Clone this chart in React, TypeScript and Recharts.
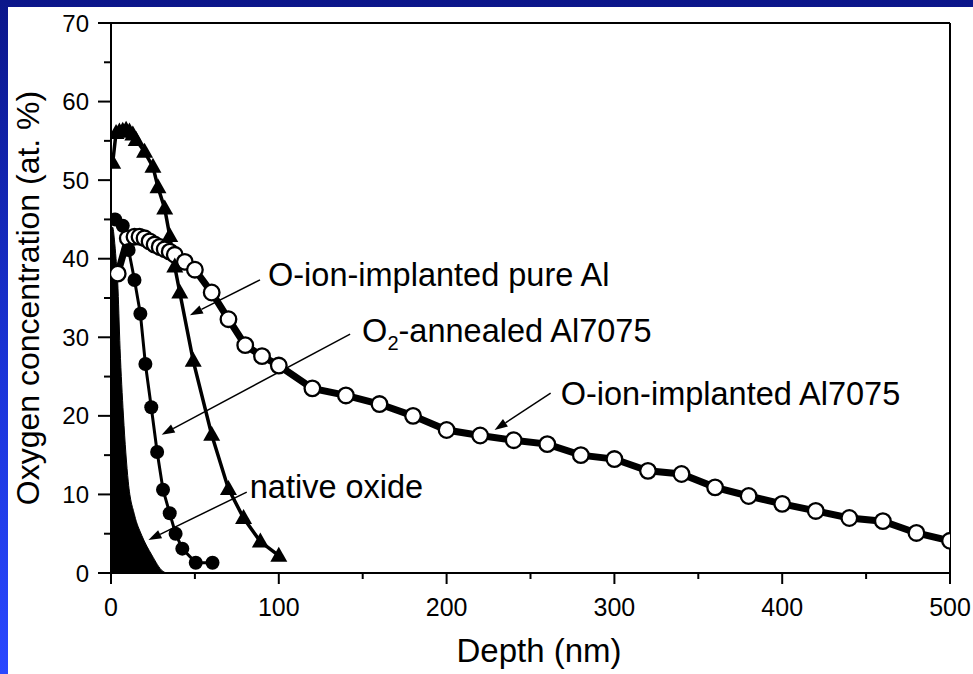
import React from "react";
import {
  ComposedChart,
  Line,
  Area,
  XAxis,
  YAxis,
  ReferenceLine,
} from "recharts";

// O-ion-implanted Al7075 (open circles)
const implantedDepth = [
  4, 10, 14, 17, 20, 23, 26, 29, 32, 35, 38, 44, 50, 60, 70, 80, 90, 100, 120,
  140, 160, 180, 200, 220, 240, 260, 280, 300, 320, 340, 360, 380, 400, 420,
  440, 460, 480, 500,
];
const implantedO = [
  38.1, 42.6, 42.8, 42.8, 42.6, 42.2, 41.8, 41.5, 41.2, 40.9, 40.5, 39.6, 38.6,
  35.7, 32.3, 29.0, 27.6, 26.4, 23.5, 22.6, 21.5, 20.0, 18.2, 17.5, 16.9, 16.4,
  15.0, 14.5, 13.0, 12.6, 10.9, 9.8, 8.8, 7.9, 7.0, 6.6, 5.1, 4.1,
];

// O-ion-implanted pure Al (triangles)
const pureAlDepth = [
  1, 3, 5, 7, 9, 11, 13, 15, 20, 25, 28, 32, 35, 38, 41, 49, 60, 70, 79, 89, 100,
];
const pureAlO = [
  52.2, 56.0, 56.2, 56.3, 56.4, 56.2, 55.8, 55.1, 53.6, 51.7, 49.1, 46.4, 42.9,
  39.0, 35.7, 27.0, 17.6, 10.7, 7.0, 4.0, 2.2,
];

// O2-annealed Al7075 (filled circles)
const annealedDepth = [
  2.5, 7, 10.5, 14, 17.5, 20.5, 24, 27.5, 31, 35, 38.5, 42.5, 50.5, 60.5,
];
const annealedO = [
  45.0, 44.2, 41.1, 37.3, 33.0, 26.6, 21.1, 15.4, 10.6, 7.6, 5.0, 3.1, 1.3, 1.3,
];

// native oxide (filled area)
const nativeDepth = [0, 1, 2, 3, 4, 5.4, 7.4, 10.3, 14, 18.3, 24.3, 31, 33];
const nativeO = [44, 44, 42.5, 40, 37, 28.6, 20.1, 11.6, 7.4, 4.8, 2.3, 0.2, 0];

const xMajor = [0, 100, 200, 300, 400, 500];
const xTicks = [0, 50, 100, 150, 200, 250, 300, 350, 400, 450, 500];
const yTicks = [0, 5, 10, 15, 20, 25, 30, 35, 40, 45, 50, 55, 60, 65, 70];

const annotations = [
  { text: "O-ion-implanted pure Al", tail: [88.8, 37.3], head: [47, 32.8], dx: 8, dy: 6 },
  { text: "O2-annealed Al7075", tail: [142.5, 30.4], head: [30.2, 17.6], dx: 12, dy: 8 },
  { text: "O-ion-implanted Al7075", tail: [262, 22.9], head: [228.6, 18.2], dx: 10, dy: 12 },
  { text: "native oxide", tail: [80.9, 10.3], head: [22.3, 4.2], dx: 3, dy: 6 },
];

const zip = (xs: number[], ys: number[]) => xs.map((d, i) => ({ d, v: ys[i] }));

const implanted = zip(implantedDepth, implantedO);
const pureAl = zip(pureAlDepth, pureAlO);
const annealed = zip(annealedDepth, annealedO);
const native = zip(nativeDepth, nativeO);

const FONT = "Arial, 'Liberation Sans', Helvetica, sans-serif";

const BottomTick = ({ x, y, payload }: any) => {
  const major = xMajor.includes(payload.value);
  return (
    <g>
      <line x1={x} y1={y} x2={x} y2={y + (major ? 11 : 6)} stroke="#000" strokeWidth={2} />
      {major && (
        <text x={x} y={y + 43} textAnchor="middle" fontSize={25} fontFamily={FONT} fill="#000">
          {payload.value}
        </text>
      )}
    </g>
  );
};

const TopTick = ({ x, y, payload }: any) => {
  const major = xMajor.includes(payload.value);
  return <line x1={x} y1={y} x2={x} y2={y + (major ? 12 : 7)} stroke="#000" strokeWidth={2} />;
};

const LeftTick = ({ x, y, payload }: any) => {
  const major = payload.value % 10 === 0;
  return (
    <g>
      <line x1={x} y1={y} x2={x - (major ? 13 : 7)} y2={y} stroke="#000" strokeWidth={2} />
      {major && (
        <text x={x - 22} y={y + 8.5} textAnchor="end" fontSize={24} fontFamily={FONT} fill="#000">
          {payload.value}
        </text>
      )}
    </g>
  );
};

const RightTick = ({ x, y, payload }: any) => {
  const major = payload.value % 10 === 0;
  return <line x1={x} y1={y} x2={x - (major ? 12 : 7)} y2={y} stroke="#000" strokeWidth={2} />;
};

const OpenDot = (p: any) => (
  <circle key={p.index} cx={p.cx} cy={p.cy} r={7.8} fill="#fff" stroke="#000" strokeWidth={2.3} />
);

const FilledDot = (p: any) => (
  <circle key={p.index} cx={p.cx} cy={p.cy} r={7} fill="#000" />
);

const TriDot = (p: any) => (
  <polygon
    key={p.index}
    points={`${p.cx},${p.cy - 9} ${p.cx - 8.5},${p.cy + 6} ${p.cx + 8.5},${p.cy + 6}`}
    fill="#000"
  />
);

const arrowShape = (a: any) => (props: any) => {
  const { x1, y1, x2, y2 } = props;
  const ang = Math.atan2(y2 - y1, x2 - x1);
  const L = 13;
  const W = 4.5;
  const bx = x2 - L * Math.cos(ang);
  const by = y2 - L * Math.sin(ang);
  const px = -Math.sin(ang) * W;
  const py = Math.cos(ang) * W;
  const sub = a.text.startsWith("O2");
  return (
    <g>
      <line x1={x1} y1={y1} x2={bx} y2={by} stroke="#000" strokeWidth={1.5} />
      <polygon points={`${x2},${y2} ${bx + px},${by + py} ${bx - px},${by - py}`} fill="#000" />
      <text x={x1 + a.dx} y={y1 + a.dy} fontSize={32.5} fontFamily={FONT} fill="#000">
        {sub ? (
          <>
            O<tspan fontSize={20} dy={8}>2</tspan>
            <tspan dy={-8}>-annealed Al7075</tspan>
          </>
        ) : (
          a.text
        )}
      </text>
    </g>
  );
};

export default function App() {
  return (
    <div
      style={{
        position: "relative",
        width: 973,
        height: 674,
        background: "linear-gradient(180deg, #0b168a 0%, #1a34d8 55%, #2a48ff 100%)",
        overflow: "hidden",
      }}
    >
      <style>{`body{margin:0}`}</style>
      <div style={{ position: "absolute", left: 8, top: 7, right: 0, bottom: 0, background: "#fff" }} />
      <div style={{ position: "absolute", left: 0, top: 0 }}>
        <ComposedChart width={973} height={674} margin={{ top: 13, right: 13, bottom: 0, left: 0 }}>
          <XAxis
            xAxisId="b"
            dataKey="d"
            type="number"
            domain={[0, 500]}
            ticks={xTicks}
            interval={0}
            orientation="bottom"
            height={101}
            tickSize={0}
            tickMargin={0}
            tick={<BottomTick />}
            axisLine={{ stroke: "#000", strokeWidth: 2 }}
            tickLine={false}
            allowDataOverflow
          />
          <XAxis
            xAxisId="t"
            dataKey="d"
            type="number"
            domain={[0, 500]}
            ticks={xTicks}
            interval={0}
            orientation="top"
            height={10}
            tickSize={0}
            tickMargin={0}
            tick={<TopTick />}
            axisLine={{ stroke: "#000", strokeWidth: 2 }}
            tickLine={false}
          />
          <YAxis
            yAxisId="l"
            type="number"
            domain={[0, 70]}
            ticks={yTicks}
            interval={0}
            width={111}
            tickSize={0}
            tickMargin={0}
            tick={<LeftTick />}
            axisLine={{ stroke: "#000", strokeWidth: 2 }}
            tickLine={false}
            allowDataOverflow
          />
          <YAxis
            yAxisId="r"
            orientation="right"
            type="number"
            domain={[0, 70]}
            ticks={yTicks}
            interval={0}
            width={10}
            tickSize={0}
            tickMargin={0}
            tick={<RightTick />}
            axisLine={{ stroke: "#000", strokeWidth: 2 }}
            tickLine={false}
          />
          <Area
            xAxisId="b"
            yAxisId="l"
            data={native}
            dataKey="v"
            type="monotone"
            fill="#000"
            fillOpacity={1}
            stroke="#000"
            strokeWidth={1}
            isAnimationActive={false}
          />
          <Line
            xAxisId="b"
            yAxisId="l"
            data={implanted}
            dataKey="v"
            type="linear"
            stroke="#000"
            strokeWidth={7}
            dot={OpenDot}
            isAnimationActive={false}
          />
          <Line
            xAxisId="b"
            yAxisId="l"
            data={annealed}
            dataKey="v"
            type="linear"
            stroke="#000"
            strokeWidth={3}
            dot={FilledDot}
            isAnimationActive={false}
          />
          <Line
            xAxisId="b"
            yAxisId="l"
            data={pureAl}
            dataKey="v"
            type="linear"
            stroke="#000"
            strokeWidth={3.5}
            dot={TriDot}
            isAnimationActive={false}
          />
          {annotations.map((a) => (
            <ReferenceLine
              key={a.text}
              xAxisId="b"
              yAxisId="l"
              segment={[
                { x: a.tail[0], y: a.tail[1] },
                { x: a.head[0], y: a.head[1] },
              ]}
              ifOverflow="visible"
              shape={arrowShape(a)}
            />
          ))}
        </ComposedChart>
      </div>
      <div
        style={{
          position: "absolute",
          left: 539,
          top: 631,
          transform: "translateX(-50%)",
          fontFamily: FONT,
          fontSize: 33,
          color: "#000",
          whiteSpace: "nowrap",
          lineHeight: "40px",
        }}
      >
        Depth (nm)
      </div>
      <div
        style={{
          position: "absolute",
          left: 28,
          top: 298,
          transform: "translate(-50%, -50%) rotate(-90deg)",
          fontFamily: FONT,
          fontSize: 32,
          color: "#000",
          whiteSpace: "nowrap",
          lineHeight: "36px",
        }}
      >
        Oxygen concentration (at. %)
      </div>
    </div>
  );
}
